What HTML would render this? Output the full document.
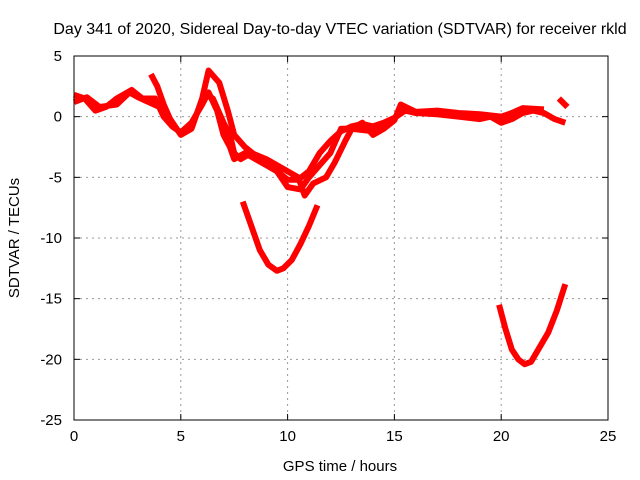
<!DOCTYPE html>
<html><head><meta charset="utf-8"><style>
body{margin:0;background:#fff}
svg{display:block;font-family:"Liberation Sans",sans-serif}
</style></head><body>
<svg id="c" width="640" height="480">
<text x="340" y="34" text-anchor="middle" font-size="16">Day 341 of 2020, Sidereal Day-to-day VTEC variation (SDTVAR) for receiver rkld</text>
<text x="340" y="471" text-anchor="middle" font-size="15">GPS time / hours</text>
<text transform="translate(19,238) rotate(-90)" text-anchor="middle" font-size="15">SDTVAR / TECUs</text>
<g id="grid"></g><g id="marks"></g>
<rect x="74" y="56" width="534" height="364" fill="none" stroke="#000"/>
<g id="ticks"></g>
</svg>
<script>
const xTicks=[0,5,10,15,20,25];
const yTicks=[5,0,-5,-10,-15,-20,-25];
const trace1=[[0,1.8],[0.5,1.5],[1,0.5],[1.5,0.8],[2,1.5],[2.7,2.2],[3.2,1.5],[3.8,1.5],[4.2,0],[4.6,-0.8],[5,-1.3],[5.5,-0.5],[6,1],[6.3,2],[6.7,0.5],[7,-1.5],[7.3,-2.5],[7.5,-3.5],[8,-3],[8.5,-3.5],[9,-4],[9.5,-4.5],[10,-5.2],[10.5,-5.2],[11,-4.5],[11.5,-3],[12,-2],[12.5,-1.2],[13,-0.8],[13.5,-0.6],[14,-0.8],[14.5,-0.5],[15,-0.1],[15.5,0.5],[16,0.3],[17,0.2],[18,0],[19,-0.2],[19.5,0],[20,-0.5],[20.5,-0.2],[21,0.3],[21.5,0.5],[22,0.3],[22.5,-0.2],[23,-0.5]];
const trace2=[[3.6,3.5],[3.9,2.5],[4.2,1],[4.5,-0.2],[5,-1.5],[5.5,-1],[6,1.5],[6.3,3.8],[6.8,2.8],[7.2,0.5],[7.5,-1.5],[8,-2.5],[8.5,-3.2],[9,-3.8],[9.5,-4.5],[10,-5.8],[10.6,-6],[11,-5],[11.5,-4],[12,-3],[12.5,-1],[13,-1],[13.5,-0.5],[14,-1.5],[14.5,-1],[15,-0.3],[15.3,1],[16,0.4],[17,0.5],[18,0.3],[19,0.2],[20,0],[20.5,0.3],[21,0.7],[22,0.6]];
const trace3a=[[0,1.2],[0.6,1.6],[1.2,0.8],[2,1],[2.6,2],[3,1.6],[3.5,1.2],[4,0.8]];
const trace3=[[6,2],[6.5,1.5],[7,-0.5],[7.3,-1.5],[7.5,-3],[7.8,-3.5],[8.3,-3],[9,-3.5],[10.5,-5],[10.8,-6.5],[11.2,-5.5],[11.8,-5],[12.2,-3.8],[12.7,-2],[13,-1],[14,-1.2],[15,-0.2]];
const trace4=[[22.7,1.5],[23.1,0.8]];
const valley1=[[7.9,-7],[8.3,-9],[8.7,-11],[9.1,-12.2],[9.5,-12.7],[9.8,-12.5],[10.2,-11.8],[10.6,-10.5],[11,-9],[11.4,-7.3]];
const valley2=[[19.9,-15.5],[20.2,-17.5],[20.5,-19.2],[20.8,-20],[21.1,-20.4],[21.4,-20.2],[21.8,-19],[22.2,-17.8],[22.6,-16],[23,-13.8]];
const NS="http://www.w3.org/2000/svg";
const xs=v=>74+v*534/25, ys=v=>56+(5-v)*364/30;
const grid=document.getElementById('grid'),ticks=document.getElementById('ticks'),marks=document.getElementById('marks');
function mk(tag,attrs,parent){const e=document.createElementNS(NS,tag);for(const k in attrs)e.setAttribute(k,attrs[k]);parent.appendChild(e);return e;}
xTicks.forEach(t=>{const x=xs(t);
 if(t>0&&t<25){const g=mk('line',{x1:x,x2:x,y1:56,y2:420,stroke:'#999','stroke-dasharray':'2,4'},grid);
 
 }
 mk('line',{x1:x,x2:x,y1:420,y2:414,stroke:'#000'},ticks);mk('line',{x1:x,x2:x,y1:56,y2:62,stroke:'#000'},ticks);
 const l=mk('text',{x:x,y:441,'text-anchor':'middle','font-size':15},ticks);l.textContent=t;
 
 });
yTicks.forEach(t=>{const y=ys(t);
 if(t<5&&t>-25){const g=mk('line',{x1:74,x2:608,y1:y,y2:y,stroke:'#999','stroke-dasharray':'2,4'},grid);
 
 }
 mk('line',{x1:74,x2:80,y1:y,y2:y,stroke:'#000'},ticks);mk('line',{x1:608,x2:602,y1:y,y2:y,stroke:'#000'},ticks);
 const l=mk('text',{x:62,y:y+5,'text-anchor':'end','font-size':15},ticks);l.textContent=t;
 
 });
[trace1,trace2,trace3a,trace3,trace4,valley1,valley2].forEach((s,i)=>{
 const p=mk('polyline',{points:s.map(d=>xs(d[0])+','+ys(d[1])).join(' '),fill:'none',stroke:'#f00','stroke-width':6,'stroke-linejoin':'round'},marks);
 
 });
</script>
</body></html>
